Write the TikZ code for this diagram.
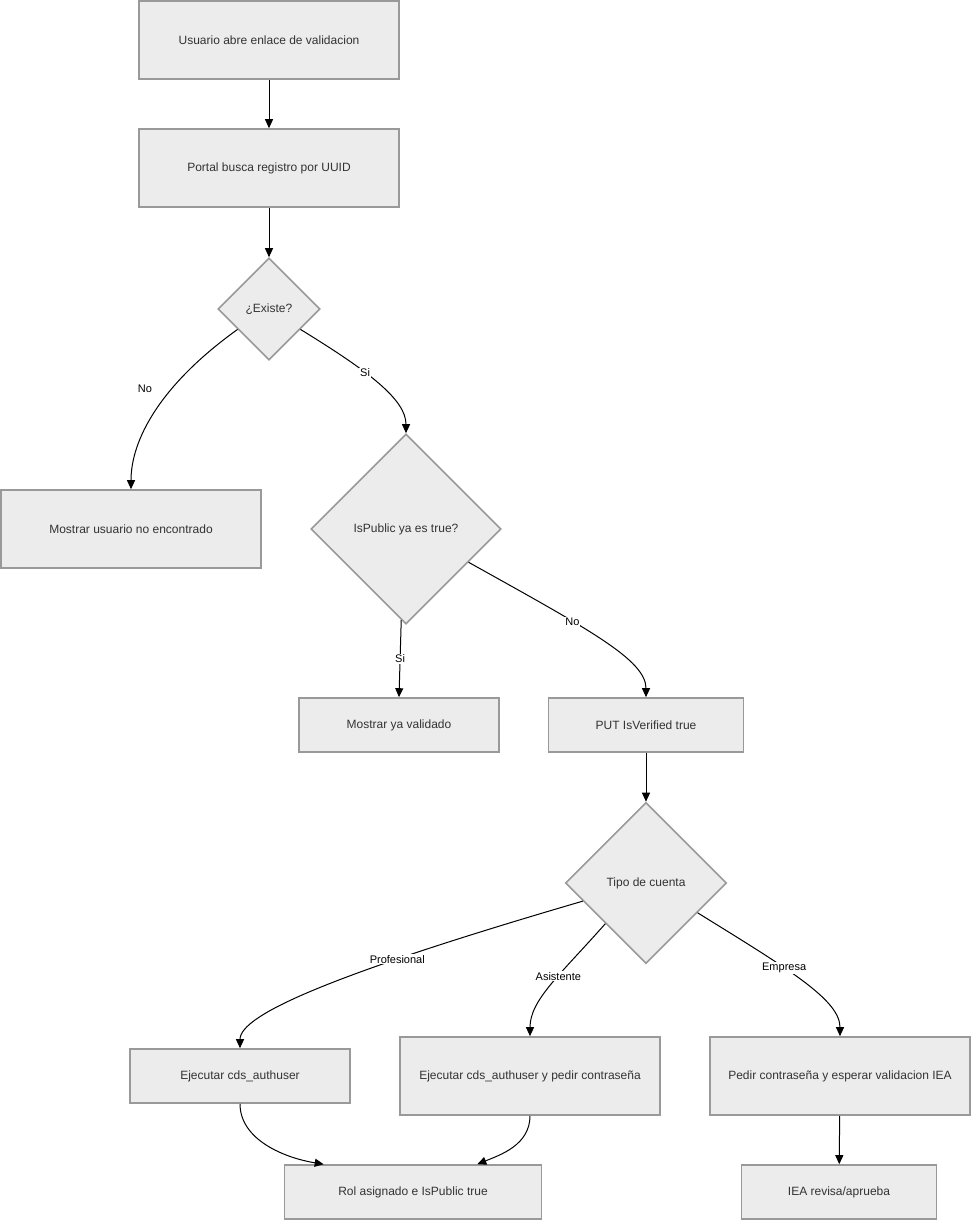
\documentclass[tikz,border=0pt]{standalone}
\usepackage{fontspec}
\setmainfont{Liberation Sans}
\usetikzlibrary{shapes.geometric,arrows.meta,positioning}
\definecolor{nfill}{HTML}{ECECEC}
\definecolor{nline}{HTML}{999999}
\definecolor{ntext}{HTML}{333333}
\tikzset{b/.style={draw=nline,line width=1.6pt,fill=nfill,text=ntext,align=center,font=\fontsize{12}{14}\selectfont,minimum height=54pt,inner sep=3pt},
 d/.style={draw=nline,line width=1.6pt,fill=nfill,text=ntext,diamond,aspect=1,inner sep=0pt,align=center,font=\fontsize{12}{14}\selectfont},
 ar/.style={-{Triangle[length=9pt,width=8pt]},line width=1pt},
 lb/.style={font=\fontsize{11}{13}\selectfont,fill=white,inner sep=1pt}}
\begin{document}
\begin{tikzpicture}[x=1pt,y=-1pt]
\useasboundingbox (0,0) rectangle (971,1220);
\node[b,minimum width=260pt,minimum height=78pt](a) at (269,40){Usuario abre enlace de validacion};
\node[b,minimum width=260pt,minimum height=78pt](b) at (269,168){Portal busca registro por UUID};
\node[d,minimum width=102pt,minimum height=102pt](c) at (269,309){¿Existe?};
\node[b,minimum width=260pt,minimum height=78pt](n) at (131,529){Mostrar usuario no encontrado};
\node[d,minimum width=190pt,minimum height=190pt](d) at (406,529){IsPublic ya es true?};
\node[b,minimum width=200pt](v) at (399,725){Mostrar ya validado};
\node[b,minimum width=195pt](p) at (646,725){PUT IsVerified true};
\node[d,minimum width=161pt,minimum height=161pt](t) at (646,883){Tipo de cuenta};
\node[b,minimum width=220pt](f) at (240,1076){Ejecutar cds\_authuser};
\node[b,minimum width=260pt,minimum height=78pt](g) at (530,1076){Ejecutar cds\_authuser y pedir contraseña};
\node[b,minimum width=260pt,minimum height=78pt](h) at (840,1076){Pedir contraseña y esperar validacion IEA};
\node[b,minimum width=257pt](r) at (413,1192){Rol asignado e IsPublic true};
\node[b,minimum width=195pt](i) at (839,1192){IEA revisa/aprueba};
\foreach\x/\y in {a/b,b/c,p/t,h/i}{\draw[ar](\x)--(\y);}
% existe?
\draw[ar](c.213)..controls(160,385)and(131,440)..(n.north);
\node[lb,fill=none] at (145,389){No};
\draw[ar](c.-33)..controls(370,372)and(406,400)..(d.north) node[lb,pos=.38]{Si};
% ya publico?
\draw[ar](d.-93)--(v.north) node[lb,midway]{Si};
\draw[ar](d.-28)..controls(590,630)and(646,660)..(p.north) node[lb,pos=.35]{No};
% tipo de cuenta
\draw[ar](t.196)..controls(330,975)and(240,1015)..(f.north) node[lb,pos=.3]{Profesional};
\draw[ar](t.south west)..controls(560,975)and(530,1000)..(g.north) node[lb,pos=.41]{Asistente};
\draw[ar](t.-30)..controls(790,970)and(840,1000)..(h.north) node[lb,pos=.38]{Empresa};
\draw[ar](f.south)..controls(240,1140)and(285,1158)..([xshift=40pt]r.north west);
\draw[ar](g.south)..controls(530,1145)and(500,1155)..([xshift=-65pt]r.north east);
\end{tikzpicture}
\end{document}
